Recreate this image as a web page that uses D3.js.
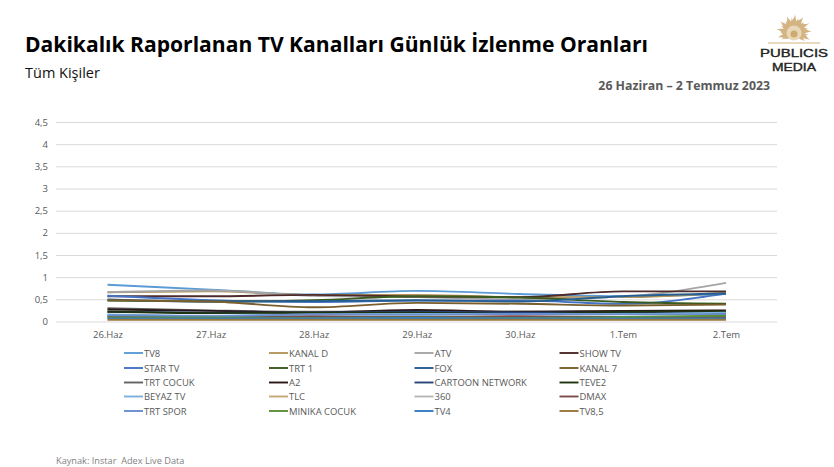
<!DOCTYPE html>
<html>
<head>
<meta charset="utf-8">
<script src="https://d3js.org/d3.v7.min.js"></script>
<style>
html,body{margin:0;padding:0;background:#fff}
svg{display:block}
</style>
</head>
<body>
<script>
var width=834,
	height=467;

var days=["26.Haz","27.Haz","28.Haz","29.Haz","30.Haz","1.Tem","2.Tem"];
var yTicks=[0,0.5,1,1.5,2,2.5,3,3.5,4,4.5];

// legend order, read row by row
var channels=["TV8","KANAL D","ATV","SHOW TV","STAR TV","TRT 1","FOX","KANAL 7","TRT COCUK","A2","CARTOON NETWORK","TEVE2","BEYAZ TV","TLC","360","DMAX","TRT SPOR","MINIKA COCUK","TV4","TV8,5"];
var colors=["#5b9bd5","#b5955a","#a5a5a5","#4e2a2a","#4472c4","#3b5a1e","#255e91","#7a5f2e","#636363","#2a1616","#264478","#1e3310","#7cafdd","#c4a878","#b7b7b7","#7b4a4a","#698ed0","#5a8f38","#327dc2","#97783a"];

var tv8=[0.83,0.72,0.61,0.69,0.62,0.57,0.62];
var kanalD=[0.66,0.68,0.60,0.60,0.55,0.55,0.65];
var atv=[0.66,0.70,0.58,0.55,0.50,0.56,0.87];
var showTv=[0.57,0.57,0.60,0.56,0.55,0.68,0.68];
var starTv=[0.58,0.48,0.44,0.47,0.47,0.40,0.63];
var trt1=[0.47,0.45,0.48,0.57,0.54,0.44,0.40];
var fox=[0.50,0.45,0.46,0.48,0.45,0.57,0.63];
var kanal7=[0.48,0.45,0.32,0.42,0.40,0.36,0.38];
var trtCocuk=[0.30,0.25,0.22,0.22,0.22,0.20,0.22];
var a2=[0.27,0.24,0.20,0.26,0.22,0.24,0.25];
var cartoon=[0.22,0.20,0.20,0.22,0.20,0.20,0.18];
var teve2=[0.22,0.19,0.20,0.20,0.17,0.22,0.23];
var beyazTv=[0.16,0.13,0.16,0.17,0.17,0.17,0.20];
var tlc=[0.12,0.11,0.10,0.11,0.11,0.10,0.10];
var s360=[0.10,0.10,0.09,0.10,0.09,0.09,0.09];
var dmax=[0.12,0.10,0.12,0.10,0.12,0.10,0.10];
var trtSpor=[0.14,0.12,0.16,0.15,0.17,0.16,0.16];
var minika=[0.09,0.09,0.08,0.09,0.08,0.10,0.13];
var tv4=[0.07,0.07,0.07,0.08,0.07,0.07,0.07];
var tv85=[0.04,0.04,0.04,0.04,0.04,0.04,0.04];
var values=[tv8,kanalD,atv,showTv,starTv,trt1,fox,kanal7,trtCocuk,a2,cartoon,teve2,beyazTv,tlc,s360,dmax,trtSpor,minika,tv4,tv85];

var svg=d3.select("body").append("svg").attr("width",width).attr("height",height);

var x=d3.scalePoint().domain(days).range([107.5,726]);
var y=d3.scaleLinear().domain([0,4.5]).range([321.5,122]);

// header
svg.append("text").attr("x",25).attr("y",52).attr("font-family","Open Sans").attr("font-weight",700)
	.attr("font-size",20.5).attr("fill","#000").attr("textLength",623).attr("lengthAdjust","spacingAndGlyphs")
	.text("Dakikalık Raporlanan TV Kanalları Günlük İzlenme Oranları");
svg.append("text").attr("x",25).attr("y",78).attr("font-family","Open Sans")
	.attr("font-size",14.5).attr("fill","#111").text("Tüm Kişiler");
svg.append("text").attr("x",770).attr("y",90).attr("text-anchor","end").attr("font-family","Open Sans").attr("font-weight",700)
	.attr("font-size",12.3).attr("fill","#595959").text("26 Haziran – 2 Temmuz 2023");

// logo, a rough sun with flame rays cut off at the horizon line
var logo=svg.append("g").attr("transform","translate(794,32)");
svg.append("clipPath").attr("id","horizon").append("rect").attr("x",-30).attr("y",-22).attr("width",60).attr("height",32);
var sun=logo.append("g").attr("clip-path","url(#horizon)");
var rays=d3.range(-126,127,14);
var flame=d3.line().curve(d3.curveBasis);
sun.selectAll("path.ray").data(rays).enter().append("path").attr("class","ray")
	.attr("fill","#d4b483")
	.attr("transform",d=>"rotate("+d+")")
	.attr("d",(d,i)=>{
		var r=i%2?20:16;
		return flame([[-2.6,-5],[-2.8,-r*0.55],[1.5,-r*0.8],[0.5,-r],[2.2,-r*0.6],[2.6,-5]])+"Z";
	});
sun.append("circle").attr("r",7.5).attr("cy",1).attr("fill","#e9d8b8");
sun.append("circle").attr("r",3.5).attr("cy",2).attr("fill","#cfa96f");
logo.append("line").attr("x1",-26).attr("x2",26).attr("y1",11).attr("y2",11).attr("stroke","#d4b483").attr("stroke-width",1.2);
logo.append("text").attr("y",24.5).attr("text-anchor","middle").attr("font-family","Liberation Sans").attr("font-size",11.8)
	.attr("fill","#222").attr("textLength",68).attr("lengthAdjust","spacingAndGlyphs").attr("stroke","#222").attr("stroke-width",0.4).text("PUBLICIS");
logo.append("text").attr("y",38.5).attr("text-anchor","middle").attr("font-family","Liberation Sans").attr("font-size",11.8)
	.attr("fill","#222").attr("textLength",44).attr("lengthAdjust","spacingAndGlyphs").attr("stroke","#222").attr("stroke-width",0.4).text("MEDIA");

// grid and axes
var yAxis=d3.axisLeft(y).tickValues(yTicks).tickSize(-721).tickPadding(8)
	.tickFormat(d=>String(d).replace(".",","));
var gy=svg.append("g").attr("transform","translate(56,0)").call(yAxis);
gy.select(".domain").remove();
gy.selectAll("line").attr("stroke","#d9d9d9").attr("stroke-width",1);
gy.selectAll("text").attr("font-family","Open Sans").attr("font-size",9.5).attr("fill","#595959");

var xAxis=d3.axisBottom(x).tickSize(0).tickPadding(10);
var gx=svg.append("g").attr("transform","translate(0,321.5)").call(xAxis);
gx.select(".domain").remove();
gx.selectAll("text").attr("font-family","Open Sans").attr("font-size",9.5).attr("fill","#595959");

// lines
var line=d3.line().x((d,i)=>x(days[i])).y(d=>y(d)).curve(d3.curveMonotoneX);
svg.append("g").selectAll("path").data(values).enter().append("path")
	.attr("fill","none").attr("stroke",(d,i)=>colors[i]).attr("stroke-width",1.9)
	.attr("d",line);

// legend
var legendX=d3.scaleOrdinal().domain([0,1,2,3]).range([124,269,414.5,559.5]);
var legendY=d3.scaleOrdinal().domain([0,1,2,3,4]).range([353,368,382.5,396.5,411]);
var item=svg.append("g").selectAll("g").data(channels).enter().append("g")
	.attr("transform",(d,i)=>"translate("+legendX(i%4)+","+legendY(Math.floor(i/4))+")");
item.append("line").attr("x1",0).attr("x2",19).attr("stroke",(d,i)=>colors[i]).attr("stroke-width",1.9);
item.append("text").attr("x",20).attr("y",3.5).attr("font-family","Open Sans").attr("font-size",9.45)
	.attr("fill","#595959").text(d=>d);

svg.append("text").attr("x",56).attr("y",464).attr("font-family","Open Sans").attr("font-size",9.2)
	.attr("fill","#7f7f7f").style("white-space","pre").text("Kaynak: Instar  Adex Live Data");
</script>
</body>
</html>
